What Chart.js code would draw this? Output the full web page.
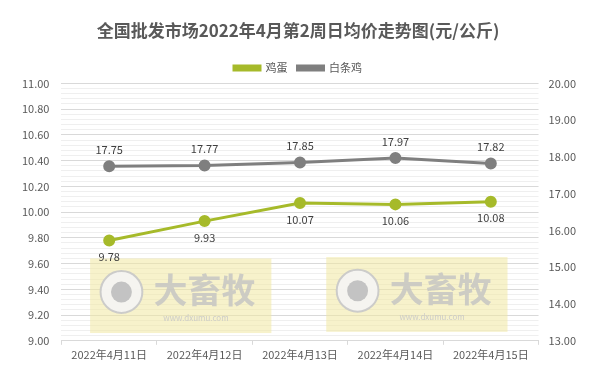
<!DOCTYPE html>
<html>
<head>
<meta charset="utf-8">
<script src="https://cdn.jsdelivr.net/npm/chart.js@4/dist/chart.umd.min.js"></script>
<style>
  html, body { margin: 0; padding: 0; background: #fff; }
  #wrap { width: 602px; height: 384px; position: relative; }
</style>
</head>
<body>
<div id="wrap"><canvas id="myChart"></canvas></div>
<script>
// data
var dates = ['2022年4月11日', '2022年4月12日', '2022年4月13日', '2022年4月14日', '2022年4月15日'];
var eggPrices = [9.78, 9.93, 10.07, 10.06, 10.08];
var chickenPrices = [17.75, 17.77, 17.85, 17.97, 17.82];

var FONT = "'Noto Sans CJK SC', 'Noto Sans', sans-serif";
var GREEN = 'rgb(166, 186, 42)';
var GRAY = 'rgb(127, 127, 127)';

// value labels: gray above the point, green below it
var labelPlugin = {
    id: 'valueLabels',
    afterDatasetsDraw: function(chart) {
        var ctx = chart.ctx;
        ctx.save();
        ctx.font = '11px ' + FONT;
        ctx.fillStyle = '#404040';
        ctx.textAlign = 'center';
        chart.data.datasets.forEach(function(ds, i) {
            var meta = chart.getDatasetMeta(i);
            meta.data.forEach(function(pt, j) {
                var txt = ds.data[j].toFixed(2);
                if (i === 0) {
                    ctx.textBaseline = 'top';
                    ctx.fillText(txt, pt.x, pt.y + 11);
                } else {
                    ctx.textBaseline = 'bottom';
                    ctx.fillText(txt, pt.x, pt.y - 11);
                }
            });
        });
        ctx.restore();
    }
};

// the two yellow "大畜牧" watermarks behind the lines
function drawMark(ctx, x, y, w, h) {
    ctx.fillStyle = 'rgba(240, 232, 160, 0.55)';
    ctx.fillRect(x, y, w, h);
    var cx = x + h * 0.42, cy = y + h * 0.45, r = h * 0.28;
    ctx.beginPath();
    ctx.arc(cx, cy, r, 0, Math.PI * 2);
    ctx.fillStyle = 'rgba(245,245,245,0.9)';
    ctx.fill();
    ctx.lineWidth = 2;
    ctx.strokeStyle = 'rgba(200,200,200,0.9)';
    ctx.stroke();
    ctx.beginPath();
    ctx.arc(cx, cy, r * 0.5, 0, Math.PI * 2);
    ctx.fillStyle = 'rgba(190,190,190,0.9)';
    ctx.fill();
    ctx.fillStyle = 'rgba(195,195,195,0.8)';
    ctx.font = 'bold 34px ' + FONT;
    ctx.textAlign = 'left';
    ctx.textBaseline = 'middle';
    ctx.fillText('大畜牧', x + h * 0.85, cy - 2);
    ctx.font = '8px ' + FONT;
    ctx.fillStyle = 'rgba(200,200,200,0.9)';
    ctx.fillText('www.dxumu.com', x + h * 0.98, y + h * 0.8);
}
var watermarkPlugin = {
    id: 'watermarks',
    beforeDatasetsDraw: function(chart) {
        var a = chart.chartArea, ctx = chart.ctx;
        var w = a.width * 0.38, h = a.height * 0.29;
        ctx.save();
        drawMark(ctx, a.left + a.width * 0.06, a.bottom - a.height * 0.32, w, h);
        drawMark(ctx, a.left + a.width * 0.555, a.bottom - a.height * 0.325, w, h);
        ctx.restore();
    }
};

document.addEventListener('DOMContentLoaded', function() {
    var ctx = document.getElementById('myChart').getContext('2d');
    var chart = new Chart(ctx, {
        type: 'line',
        data: {
            labels: dates,
            datasets: [{
                label: '鸡蛋',
                data: eggPrices,
                borderColor: GREEN,
                backgroundColor: GREEN,
                borderWidth: 3,
                pointRadius: 4.5,
                pointHoverRadius: 4.5,
                yAxisID: 'y',
                fill: false
            }, {
                label: '白条鸡',
                data: chickenPrices,
                borderColor: GRAY,
                backgroundColor: GRAY,
                borderWidth: 3,
                pointRadius: 4.5,
                pointHoverRadius: 4.5,
                yAxisID: 'y1',
                fill: false
            }]
        },
        options: {
            responsive: true,
            maintainAspectRatio: false,
            animation: false,
            layout: { padding: { left: 10, right: 16, top: 6, bottom: 20 } },
            plugins: {
                title: {
                    display: true,
                    text: '全国批发市场2022年4月第2周日均价走势图(元/公斤)',
                    color: '#595959',
                    font: { family: FONT, size: 17, weight: 'bold' },
                    padding: { top: 14, bottom: 12 }
                },
                legend: {
                    position: 'top',
                    labels: {
                        color: '#595959',
                        font: { family: FONT, size: 11 },
                        boxWidth: 26,
                        boxHeight: 4,
                        padding: 10
                    }
                },
                tooltip: { enabled: false }
            },
            scales: {
                x: {
                    offset: true,
                    grid: { display: true, drawOnChartArea: false, drawTicks: true, tickLength: 4, color: '#d9d9d9', offset: true },
                    border: { color: '#d9d9d9' },
                    ticks: { color: '#595959', font: { family: FONT, size: 11 }, maxRotation: 0, autoSkip: false }
                },
                y: {
                    position: 'left',
                    min: 9, max: 11,
                    grid: {
                        drawTicks: false,
                        color: function(c) {
                            var v = Math.round(c.tick.value * 100);
                            return v % 20 === 0 ? '#d9d9d9' : '#efefef';
                        }
                    },
                    border: { display: false },
                    ticks: {
                        stepSize: 0.04,
                        autoSkip: false,
                        padding: 12,
                        color: '#595959',
                        font: { family: FONT, size: 11 },
                        callback: function(v) {
                            var n = Math.round(v * 100);
                            return n % 20 === 0 ? (n / 100).toFixed(2) : '';
                        }
                    }
                },
                y1: {
                    position: 'right',
                    min: 13, max: 20,
                    grid: { drawOnChartArea: false, drawTicks: false },
                    border: { display: false },
                    ticks: {
                        stepSize: 1,
                        padding: 10,
                        color: '#595959',
                        font: { family: FONT, size: 11 },
                        callback: function(v) { return v.toFixed(2); }
                    }
                }
            }
        },
        plugins: [watermarkPlugin, labelPlugin]
    });
});
</script>
</body>
</html>
